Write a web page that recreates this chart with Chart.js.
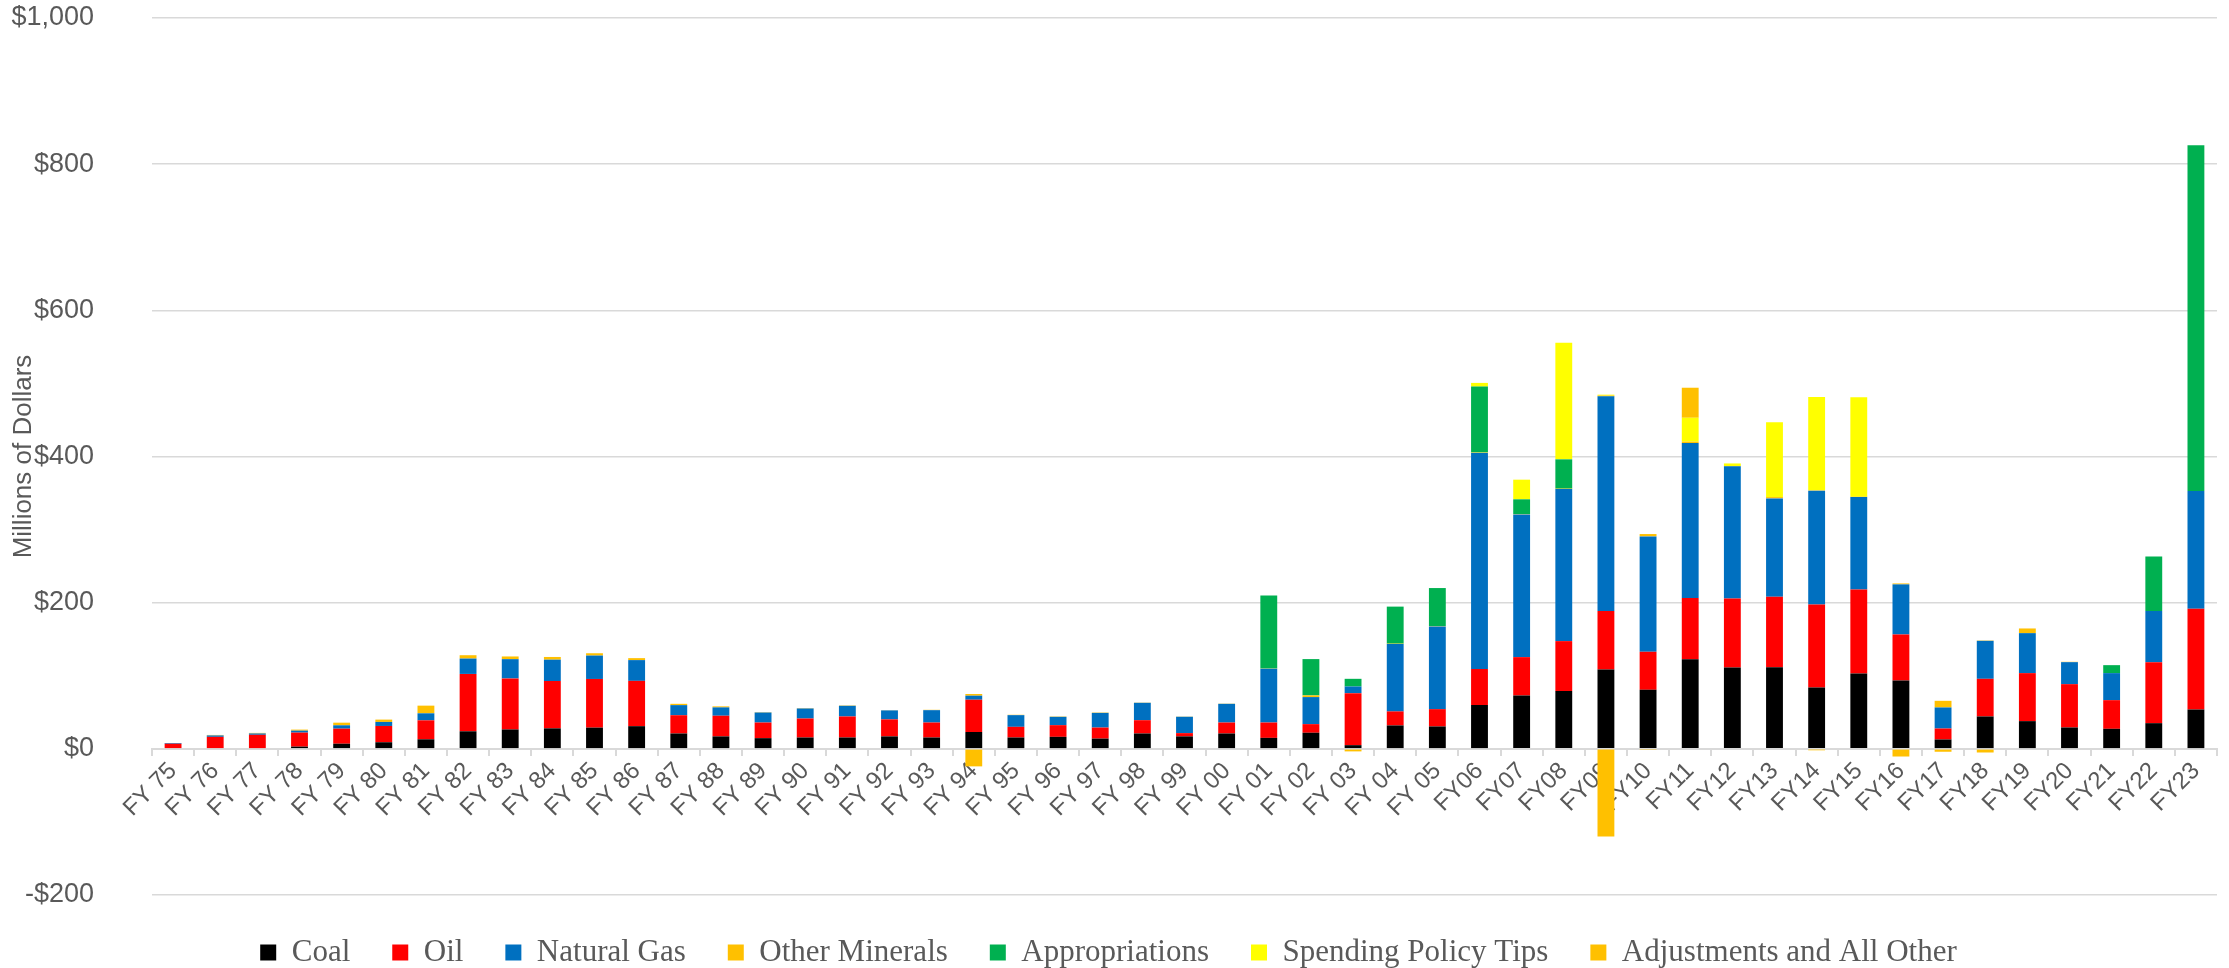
<!DOCTYPE html>
<html>
<head>
<meta charset="utf-8">
<script src="https://cdn.jsdelivr.net/npm/chart.js@4.4.0/dist/chart.umd.min.js"></script>
<style>
  html, body { margin: 0; padding: 0; background: #fff; }
</style>
</head>
<body>
<canvas id="chart" width="2229" height="968"></canvas>
<script>
const years = ['FY 75', 'FY 76', 'FY 77', 'FY 78', 'FY 79', 'FY 80', 'FY 81', 'FY 82', 'FY 83', 'FY 84',
  'FY 85', 'FY 86', 'FY 87', 'FY 88', 'FY 89', 'FY 90', 'FY 91', 'FY 92', 'FY 93', 'FY 94',
  'FY 95', 'FY 96', 'FY 97', 'FY 98', 'FY 99', 'FY 00', 'FY 01', 'FY 02', 'FY 03', 'FY 04',
  'FY 05', 'FY06', 'FY07', 'FY08', 'FY09', 'FY10', 'FY11', 'FY12', 'FY13', 'FY14',
  'FY15', 'FY16', 'FY17', 'FY18', 'FY19', 'FY20', 'FY21', 'FY22', 'FY23'];

// millions of dollars
const coal = [0, 0, 1, 3, 7, 9, 13, 24, 26.5, 28,
  29, 31, 21, 17, 14.6, 15.5, 15.5, 17, 15.5, 23,
  15.5, 16.4, 14, 21, 17, 21, 15, 22, 5, 32,
  30.6, 60, 73, 79, 108.6, 80.8, 122.7, 111.3, 111.8, 83.9,
  103, 93.5, 12.8, 44.3, 37.9, 29.2, 27.4, 35.1, 53.8];
const oil = [7, 16.4, 18.2, 19.2, 20.6, 22.3, 26, 78.5, 69.8, 64.8,
  66.6, 62, 25, 28.3, 21.4, 26, 28.8, 23.3, 20.5, 44.2,
  14.6, 16, 15.1, 18.2, 4.5, 15, 21, 11.8, 71.2, 19.2,
  23.7, 49.2, 52.5, 68.4, 79.9, 52, 83.6, 94.5, 96.2, 113.7,
  115, 63, 15, 51.5, 65.7, 59.3, 39.2, 83.5, 137.8];
const naturalGas = [1, 1.9, 1.8, 2.7, 4.6, 5.5, 9.6, 21, 26.4, 29.2,
  32, 28.4, 13.8, 11.4, 13.7, 13.7, 14.6, 12.3, 16.9, 5.5,
  16, 11.4, 20.1, 23.8, 22.4, 25.6, 73.5, 37, 9.1, 92.2,
  113.2, 295.7, 195.3, 208.1, 293.8, 157.9, 212.1, 180.7, 134.7, 155.6,
  126.5, 68.5, 28.8, 52, 54.7, 30.1, 37, 69.9, 161.1];
const otherMinerals = [0, 0.7, 0.8, 1.4, 3.6, 3.2, 10.5, 4.6, 3.7, 3.7,
  3.2, 2.7, 1.8, 1.4, 0.5, 0.5, 0.5, 0.3, 0.5, 2.3,
  0.5, 0.5, 0.5, 0.3, 0.3, 0.3, 0.3, 2.3, 0, 0.5,
  0.5, 0.5, 0.5, 0.5, 1, 3.2, 1.9, 0.5, 1.8, 0.5,
  0.5, 1.3, 9.1, 0.5, 6.4, 0.5, 0, 0, 0];
const appropriations = [0, 0, 0, 0, 0, 0, 0, 0, 0, 0,
  0, 0, 0, 0, 0, 0, 0, 0, 0, 0,
  0, 0, 0, 0, 0, 0, 99.9, 49.7, 10.5, 50.7,
  52, 90.3, 20.1, 40.1, 0, 0, 0, 0, 0, 0,
  0, 0, 0, 0, 0, 0, 10.9, 74.8, 473.3];
const spendingPolicyTips = [0, 0, 0, 0, 0, 0, 0, 0, 0, 0,
  0, 0, 0, 0, 0, 0, 0, 0, 0, 0,
  0, 0, 0, 0, 0, 0, 0, 0, 0, 0,
  0, 5, 26.9, 159.7, 1.3, 0, 32.7, 3.5, 102.3, 127.8,
  136, 0, 0, 0, 0, 0, 0, 0, 0];
const adjustments = [0, 0, 0, 0, 0, 0, 0, 0, 0, 0,
  0, 0, 0, 0, 0, 0, 0, 0, 0, -24,
  0, 0, 0, 0, 0, 0, 0, 0, -3.5, 0,
  0, 0, 0, 0, -120, -1.5, 41.1, 0, 0, -2,
  0, -10.5, -4, -5, 0, 0, 0, 0, 0];

const yTicks = [-200, 0, 200, 400, 600, 800, 1000];

const grey = '#595959';
const gridGrey = '#D9D9D9';
const sans = '"Liberation Sans", Arial, sans-serif';

function ds(label, data, color) {
  return {
    label: label,
    data: data,
    backgroundColor: color,
    borderWidth: 0,
    categoryPercentage: 1,
    barPercentage: 0.4,
  };
}

const ctx = document.getElementById('chart').getContext('2d');
new Chart(ctx, {
  type: 'bar',
  data: {
    labels: years,
    datasets: [
      ds('Coal', coal, '#000000'),
      ds('Oil', oil, '#FF0000'),
      ds('Natural Gas', naturalGas, '#0070C0'),
      ds('Other Minerals', otherMinerals, '#FFC000'),
      ds('Appropriations', appropriations, '#00B050'),
      ds('Spending Policy Tips', spendingPolicyTips, '#FFFF00'),
      ds('Adjustments and All Other', adjustments, '#FFC000'),
    ],
  },
  options: {
    responsive: false,
    animation: false,
    layout: { padding: { left: 0, right: 12, top: 18, bottom: -10 } },
    plugins: {
      tooltip: { enabled: false },
      legend: {
        position: 'bottom',
        labels: {
          boxWidth: 16,
          boxHeight: 16,
          padding: 42,
          color: grey,
          font: { family: '"Liberation Serif", "Times New Roman", serif', size: 31 },
        },
      },
    },
    scales: {
      x: {
        stacked: true,
        position: { y: 0 },
        grid: { drawOnChartArea: false, drawTicks: true, tickLength: 6, color: gridGrey, lineWidth: 2 },
        border: { color: gridGrey, width: 2 },
        ticks: {
          autoSkip: false,
          maxRotation: 45,
          minRotation: 45,
          padding: 2,
          color: grey,
          font: { family: sans, size: 24 },
        },
      },
      y: {
        stacked: true,
        min: -200,
        max: 1000,
        afterBuildTicks: (axis) => { axis.ticks = yTicks.map(v => ({ value: v })); },
        afterFit: (axis) => {
          axis.width = 152;
          axis.paddingTop = 0;
          axis.paddingBottom = 0;
        },
        grid: { color: gridGrey, lineWidth: 1.5, drawTicks: false },
        border: { display: false },
        ticks: {
          padding: 58,
          color: grey,
          font: { family: sans, size: 27 },
          callback: (v) => (v < 0 ? '-$' : '$') + Math.abs(v).toLocaleString('en-US'),
        },
        title: {
          display: true,
          text: 'Millions of Dollars',
          color: grey,
          padding: { top: 8, bottom: 4 },
          font: { family: sans, size: 26 },
        },
      },
    },
  },
});
</script>
</body>
</html>
